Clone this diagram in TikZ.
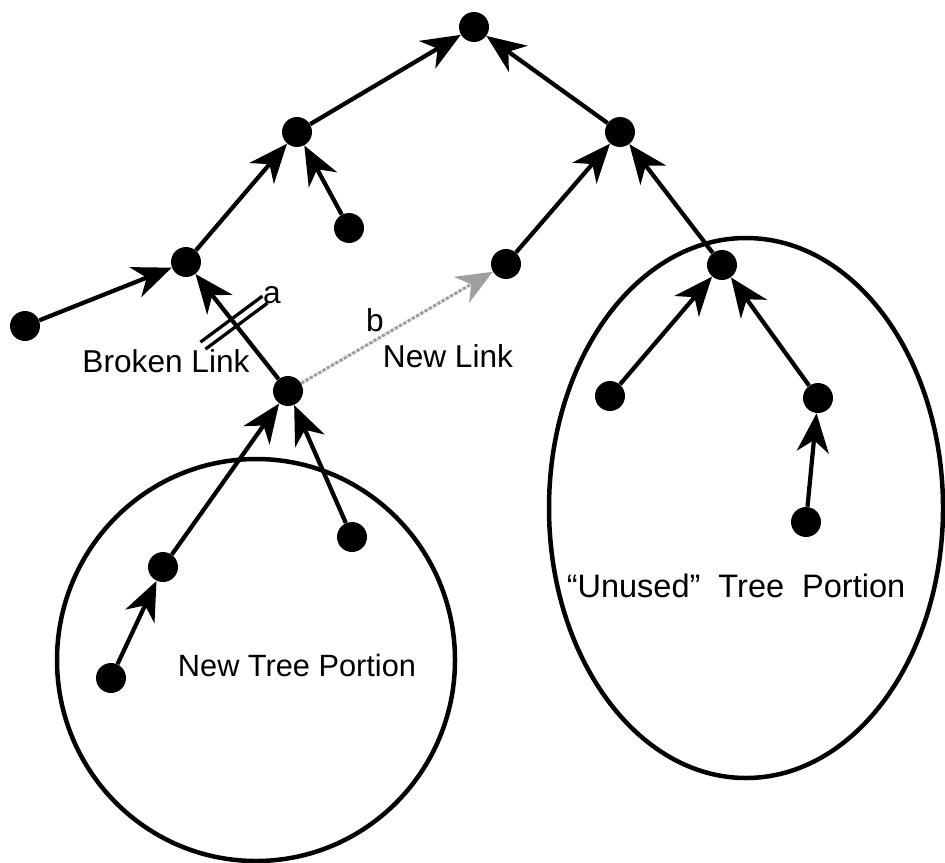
\documentclass[tikz,border=0pt]{standalone}
\usepackage{fontspec}
\setmainfont{Liberation Sans}
\usepackage{tikz}
\usetikzlibrary{arrows.meta,calc}

\tikzset{
  dot/.style={circle, fill=black, inner sep=0pt, minimum size=0.6cm},
  link/.style={line width=0.085cm, -{Stealth[length=0.78cm, width=0.64cm, inset=0.24cm]}},
  newlink/.style={line width=0.06cm, gray!75, dash pattern=on 2pt off 0.8pt,
    -{Stealth[length=0.72cm, width=0.6cm, inset=0.22cm, gray!75]}},
  portion/.style={line width=0.09cm},
  cutmark/.style={line width=0.065cm},
  lbl/.style={font=\fontsize{18}{20}\selectfont, inner sep=0pt}
}

\begin{document}
\begin{tikzpicture}[x=0.02cm, y=-0.02cm]
        \useasboundingbox (0,0) rectangle (945,862);
        % the two portions
        \draw[portion] (256,660) ellipse [x radius=199, y radius=201];
        \draw[portion] (746,508) ellipse [x radius=197, y radius=270];
        % tree nodes
        \foreach \name/\px/\py in {root/474/27, l1/297/132, r1/620/132, lc/349/228,
            l2/186/262, lf/25/326, x/288/391, m/506/264, u/722/265,
            ua/610/396, ub/818/398, uc/806/522, na/163/567, nb/352/537, nc/111/678}
          \node[dot] (\name) at (\px,\py) {};
        % parent links
        \foreach \a/\b in {l1/root, r1/root, l2/l1, lc/l1, lf/l2, x/l2, m/r1, u/r1,
            ua/u, ub/u, uc/ub, na/x, nb/x, nc/na}
          \draw[link] (\a) -- (\b);
        % new link
        \draw[newlink] (x) -- (m);
        % broken link marks
        \coordinate (cut) at ($(x)!0.53!(l2)$);
        \draw[cutmark] ($(cut)+(-31,23)+(-2.5,-3.5)$) -- ($(cut)+(31,-23)+(-2.5,-3.5)$);
        \draw[cutmark] ($(cut)+(-31,23)+(2.5,3.5)$) -- ($(cut)+(31,-23)+(2.5,3.5)$);
        % labels
        \node[lbl] (a) at (272,295) {a};
        \node[lbl] (brk) at (166,361) {Broken Link};
        \node[lbl] (b) at (375,320) {b};
        \node[lbl] (nw) at (448,356) {New Link};
        \node[lbl, font=\fontsize{17.5}{20}\selectfont] (ntp) at (297,665) {New Tree Portion};
        \node[lbl, font=\fontsize{18.5}{20}\selectfont] (utp) at (736,586) {``Unused''\ \ Tree\ \ Portion};
\end{tikzpicture}
\end{document}
